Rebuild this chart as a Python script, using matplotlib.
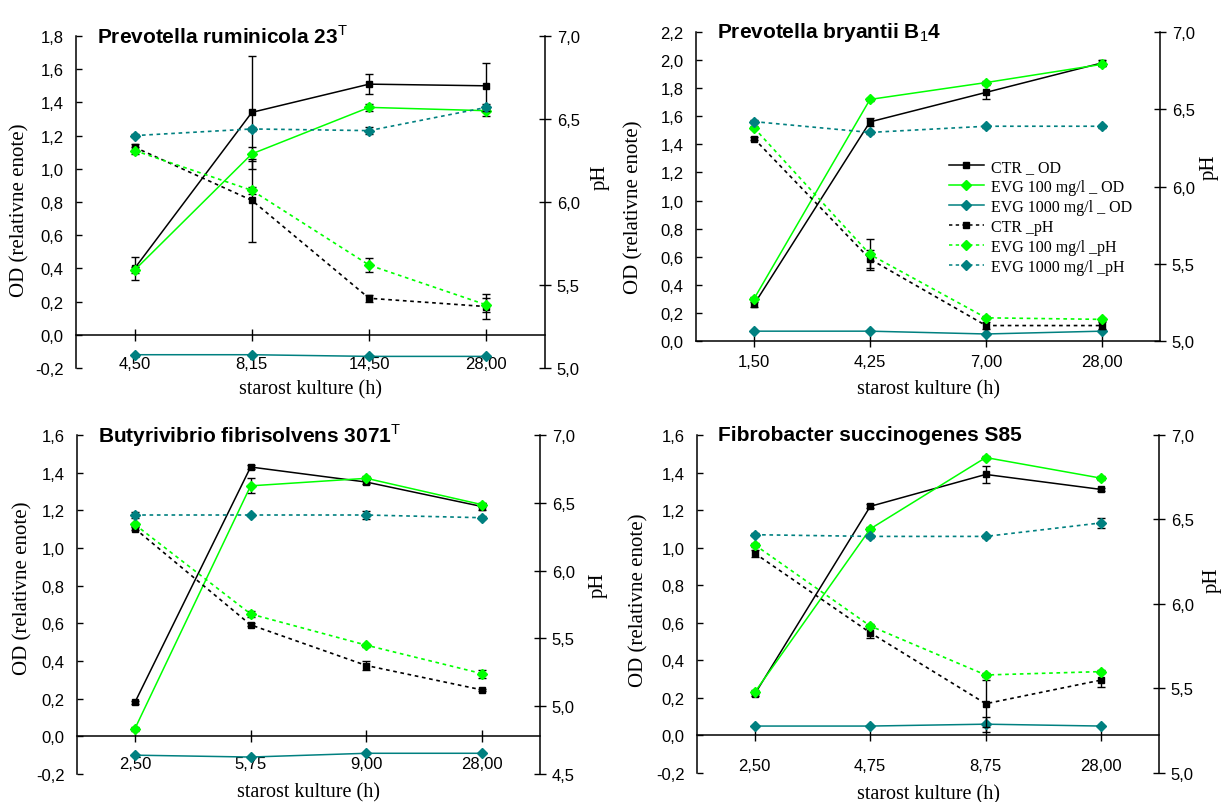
import matplotlib
matplotlib.use("Agg")
import matplotlib.pyplot as plt
from matplotlib.ticker import FuncFormatter, MultipleLocator
from matplotlib.lines import Line2D

plt.rcParams['mathtext.fontset'] = 'custom'
plt.rcParams['mathtext.rm'] = 'Liberation Sans'
plt.rcParams['mathtext.bf'] = 'Liberation Sans:bold'

SANS = 'Liberation Sans'
SERIF = 'Liberation Serif'

# ==================== Data ====================
# Prevotella ruminicola 23T
p1_hours = ["4,50", "8,15", "14,50", "28,00"]
p1_ctr_od = [0.40, 1.34, 1.51, 1.50]
p1_ctr_od_err = [0.07, 0.34, 0.06, 0.14]
p1_evg100_od = [0.39, 1.09, 1.37, 1.35]
p1_evg100_od_err = [0.02, 0.04, 0.02, 0.03]
p1_evg1000_od = [-0.12, -0.12, -0.13, -0.13]
p1_ctr_ph = [6.33, 6.01, 5.42, 5.37]
p1_ctr_ph_err = [0.02, 0.25, 0.02, 0.075]
p1_evg100_ph = [6.31, 6.07, 5.62, 5.38]
p1_evg100_ph_err = [0.02, 0.02, 0.04, 0.04]
p1_evg1000_ph = [6.40, 6.44, 6.43, 6.57]
p1_evg1000_ph_err = [0.01, 0.01, 0.02, 0.02]

# Prevotella bryantii B14
p2_hours = ["1,50", "4,25", "7,00", "28,00"]
p2_ctr_od = [0.26, 1.56, 1.77, 1.98]
p2_ctr_od_err = [0.02, 0.03, 0.05, 0.02]
p2_evg100_od = [0.30, 1.72, 1.84, 1.97]
p2_evg100_od_err = [0.01, 0.01, 0.01, 0.01]
p2_evg1000_od = [0.07, 0.07, 0.05, 0.07]
p2_ctr_ph = [6.31, 5.53, 5.10, 5.10]
p2_ctr_ph_err = [0.01, 0.06, 0.02, 0.02]
p2_evg100_ph = [6.38, 5.56, 5.15, 5.14]
p2_evg100_ph_err = [0.01, 0.10, 0.01, 0.01]
p2_evg1000_ph = [6.42, 6.35, 6.39, 6.39]
p2_evg1000_ph_err = [0.01, 0.01, 0.01, 0.01]

# Butyrivibrio fibrisolvens 3071T
p3_hours = ["2,50", "5,75", "9,00", "28,00"]
p3_ctr_od = [0.18, 1.43, 1.35, 1.22]
p3_ctr_od_err = [0.01, 0.01, 0.01, 0.02]
p3_evg100_od = [0.04, 1.33, 1.37, 1.23]
p3_evg100_od_err = [0.01, 0.04, 0.01, 0.01]
p3_evg1000_od = [-0.10, -0.11, -0.09, -0.09]
p3_ctr_ph = [6.31, 5.60, 5.30, 5.12]
p3_ctr_ph_err = [0.01, 0.01, 0.03, 0.01]
p3_evg100_ph = [6.34, 5.68, 5.45, 5.24]
p3_evg100_ph_err = [0.01, 0.02, 0.01, 0.03]
p3_evg1000_ph = [6.41, 6.41, 6.41, 6.39]
p3_evg1000_ph_err = [0.02, 0.01, 0.03, 0.01]

# Fibrobacter succinogenes S85
p4_hours = ["2,50", "4,75", "8,75", "28,00"]
p4_ctr_od = [0.22, 1.22, 1.39, 1.31]
p4_ctr_od_err = [0.01, 0.01, 0.045, 0.01]
p4_evg100_od = [0.23, 1.10, 1.48, 1.37]
p4_evg100_od_err = [0.01, 0.01, 0.01, 0.01]
p4_evg1000_od = [0.05, 0.05, 0.06, 0.05]
p4_evg1000_od_err = [0.0, 0.0, 0.04, 0.0]
p4_ctr_ph = [6.30, 5.83, 5.41, 5.55]
p4_ctr_ph_err = [0.02, 0.03, 0.14, 0.04]
p4_evg100_ph = [6.35, 5.87, 5.58, 5.60]
p4_evg100_ph_err = [0.01, 0.01, 0.01, 0.01]
p4_evg1000_ph = [6.41, 6.40, 6.40, 6.48]
p4_evg1000_ph_err = [0.01, 0.01, 0.01, 0.03]

labels = ["CTR _ OD", "EVG 100 mg/l _ OD", "EVG 1000 mg/l _ OD",
          "CTR _pH", "EVG 100 mg/l _pH", "EVG 1000 mg/l _pH"]

# ==================== Style ====================
BLACK = 'black'
GREEN = '#00ff00'
TEAL = '#008080'
DOT = (0, (2.2, 2.2))

panels = [
    dict(title=r"Prevotella ruminicola 23$^{\rm T}$", hours=p1_hours,
         od=[(p1_ctr_od, p1_ctr_od_err), (p1_evg100_od, p1_evg100_od_err), (p1_evg1000_od, None)],
         ph=[(p1_ctr_ph, p1_ctr_ph_err), (p1_evg100_ph, p1_evg100_ph_err), (p1_evg1000_ph, p1_evg1000_ph_err)],
         od_lim=(-0.2, 1.8), ph_lim=(5.0, 7.0), rect=(76, 37, 545, 369),
         xpad=11, xlab_y=390, odlab_x=20, odlab_y=210, phlab_x=600, phlab_y=177),
    dict(title=r"Prevotella bryantii B$_{\rm 1}$4", hours=p2_hours,
         od=[(p2_ctr_od, p2_ctr_od_err), (p2_evg100_od, p2_evg100_od_err), (p2_evg1000_od, None)],
         ph=[(p2_ctr_ph, p2_ctr_ph_err), (p2_evg100_ph, p2_evg100_ph_err), (p2_evg1000_ph, p2_evg1000_ph_err)],
         od_lim=(0.0, 2.2), ph_lim=(5.0, 7.0), rect=(696, 33, 1160, 342),
         xpad=5, xlab_y=390, odlab_x=634, odlab_y=207, phlab_x=1209, phlab_y=167),
    dict(title=r"Butyrivibrio fibrisolvens 3071$^{\rm T}$", hours=p3_hours,
         od=[(p3_ctr_od, p3_ctr_od_err), (p3_evg100_od, p3_evg100_od_err), (p3_evg1000_od, None)],
         ph=[(p3_ctr_ph, p3_ctr_ph_err), (p3_evg100_ph, p3_evg100_ph_err), (p3_evg1000_ph, p3_evg1000_ph_err)],
         od_lim=(-0.2, 1.6), ph_lim=(4.5, 7.0), rect=(77, 436, 540, 775),
         xpad=10, xlab_y=793, odlab_x=23, odlab_y=588, phlab_x=598, phlab_y=585),
    dict(title="Fibrobacter succinogenes S85", hours=p4_hours,
         od=[(p4_ctr_od, p4_ctr_od_err), (p4_evg100_od, p4_evg100_od_err), (p4_evg1000_od, p4_evg1000_od_err)],
         ph=[(p4_ctr_ph, p4_ctr_ph_err), (p4_evg100_ph, p4_evg100_ph_err), (p4_evg1000_ph, p4_evg1000_ph_err)],
         od_lim=(-0.2, 1.6), ph_lim=(5.0, 7.0), rect=(697, 436, 1159, 774),
         xpad=12, xlab_y=795, odlab_x=639, odlab_y=600, phlab_x=1212, phlab_y=580),
]

series_style = [(BLACK, 's', 5), (GREEN, 'D', 5), (TEAL, 'D', 5)]

W, H = 1221, 803
comma = FuncFormatter(lambda v, p: f"{v:.1f}".replace('.', ','))

fig = plt.figure(figsize=(W / 100, H / 100), dpi=100)

for i, p in enumerate(panels):
    x0, y0, x1, y1 = p['rect']
    ax = fig.add_axes([x0 / W, 1 - y1 / H, (x1 - x0) / W, (y1 - y0) / H])
    ax2 = ax.twinx()
    ax.set_zorder(1)
    ax2.set_zorder(2)
    ax.patch.set_visible(False)
    ax2.patch.set_visible(False)
    x = list(range(len(p['hours'])))

    for (vals, err), (col, mk, ms) in zip(p['od'], series_style):
        ax.errorbar(x, vals, yerr=err, color=col, marker=mk, ms=ms, mec=col, mfc=col,
                    lw=1.1, ecolor=BLACK, elinewidth=1, capsize=3, capthick=1, zorder=3)
    for (vals, err), (col, mk, ms) in zip(p['ph'], series_style):
        ax2.errorbar(x, vals, yerr=err, color=col, marker=mk, ms=ms, mec=col, mfc=col,
                     lw=1.2, ls=DOT, ecolor=BLACK, elinewidth=1, capsize=3, capthick=1, zorder=3)

    ax.set_xlim(-0.5, 3.5)
    ax.set_ylim(*p['od_lim'])
    ax2.set_ylim(*p['ph_lim'])
    ax.yaxis.set_major_locator(MultipleLocator(0.2))
    ax2.yaxis.set_major_locator(MultipleLocator(0.5))
    ax.yaxis.set_major_formatter(comma)
    ax2.yaxis.set_major_formatter(comma)
    ax.set_xticks(x)
    ax.set_xticklabels(p['hours'])

    for a in (ax, ax2):
        a.spines['top'].set_visible(False)
        a.spines['bottom'].set_visible(False)
    ax.spines['bottom'].set_visible(True)
    ax.spines['bottom'].set_position(('data', 0))
    ax.spines['right'].set_visible(False)
    ax2.spines['left'].set_visible(False)
    ax2.spines['right'].set_linewidth(1.1)
    ax.spines['left'].set_linewidth(1.1)
    ax.spines['bottom'].set_linewidth(1.1)

    ax.tick_params(axis='y', direction='in', length=4, width=1, pad=9, labelsize=12)
    ax.tick_params(axis='x', direction='inout', length=9, width=1, pad=p['xpad'], labelsize=12)
    ax2.tick_params(axis='y', direction='inout', length=9, width=1, pad=4, labelsize=12)
    for lab in ax.get_xticklabels() + ax.get_yticklabels() + ax2.get_yticklabels():
        lab.set_family(SANS)

    fig.text(x0 / W + 0.5 * (x1 - x0) / W, 1 - p['xlab_y'] / H, "starost kulture (h)",
             ha='center', va='center', family=SERIF, fontsize=14.5)
    fig.text(p['odlab_x'] / W, 1 - p['odlab_y'] / H, "OD (relativne enote)",
             ha='center', va='center', rotation=90, family=SERIF, fontsize=15)
    fig.text(p['phlab_x'] / W, 1 - p['phlab_y'] / H, "pH",
             ha='center', va='center', rotation=90, family=SERIF, fontsize=15)

    ax.text(0.045, 1.0, p['title'], transform=ax.transAxes, ha='left', va='center',
            family=SANS, fontsize=15, fontweight='bold')

    if i == 1:
        handles = []
        for ls in ('-', DOT):
            for col, mk, ms in series_style:
                handles.append(Line2D([], [], color=col, ls=ls, lw=1.1, marker=mk,
                                      ms=ms, mec=col, mfc=col))
        ax2.legend(handles, labels, loc='upper left', bbox_to_anchor=(0.545, 0.59),
                   frameon=False, prop=dict(family=SERIF, size=11.5),
                   handlelength=2.2, handletextpad=0.45, labelspacing=0.25,
                   borderpad=0, borderaxespad=0)

fig.savefig("out.png", dpi=100)
